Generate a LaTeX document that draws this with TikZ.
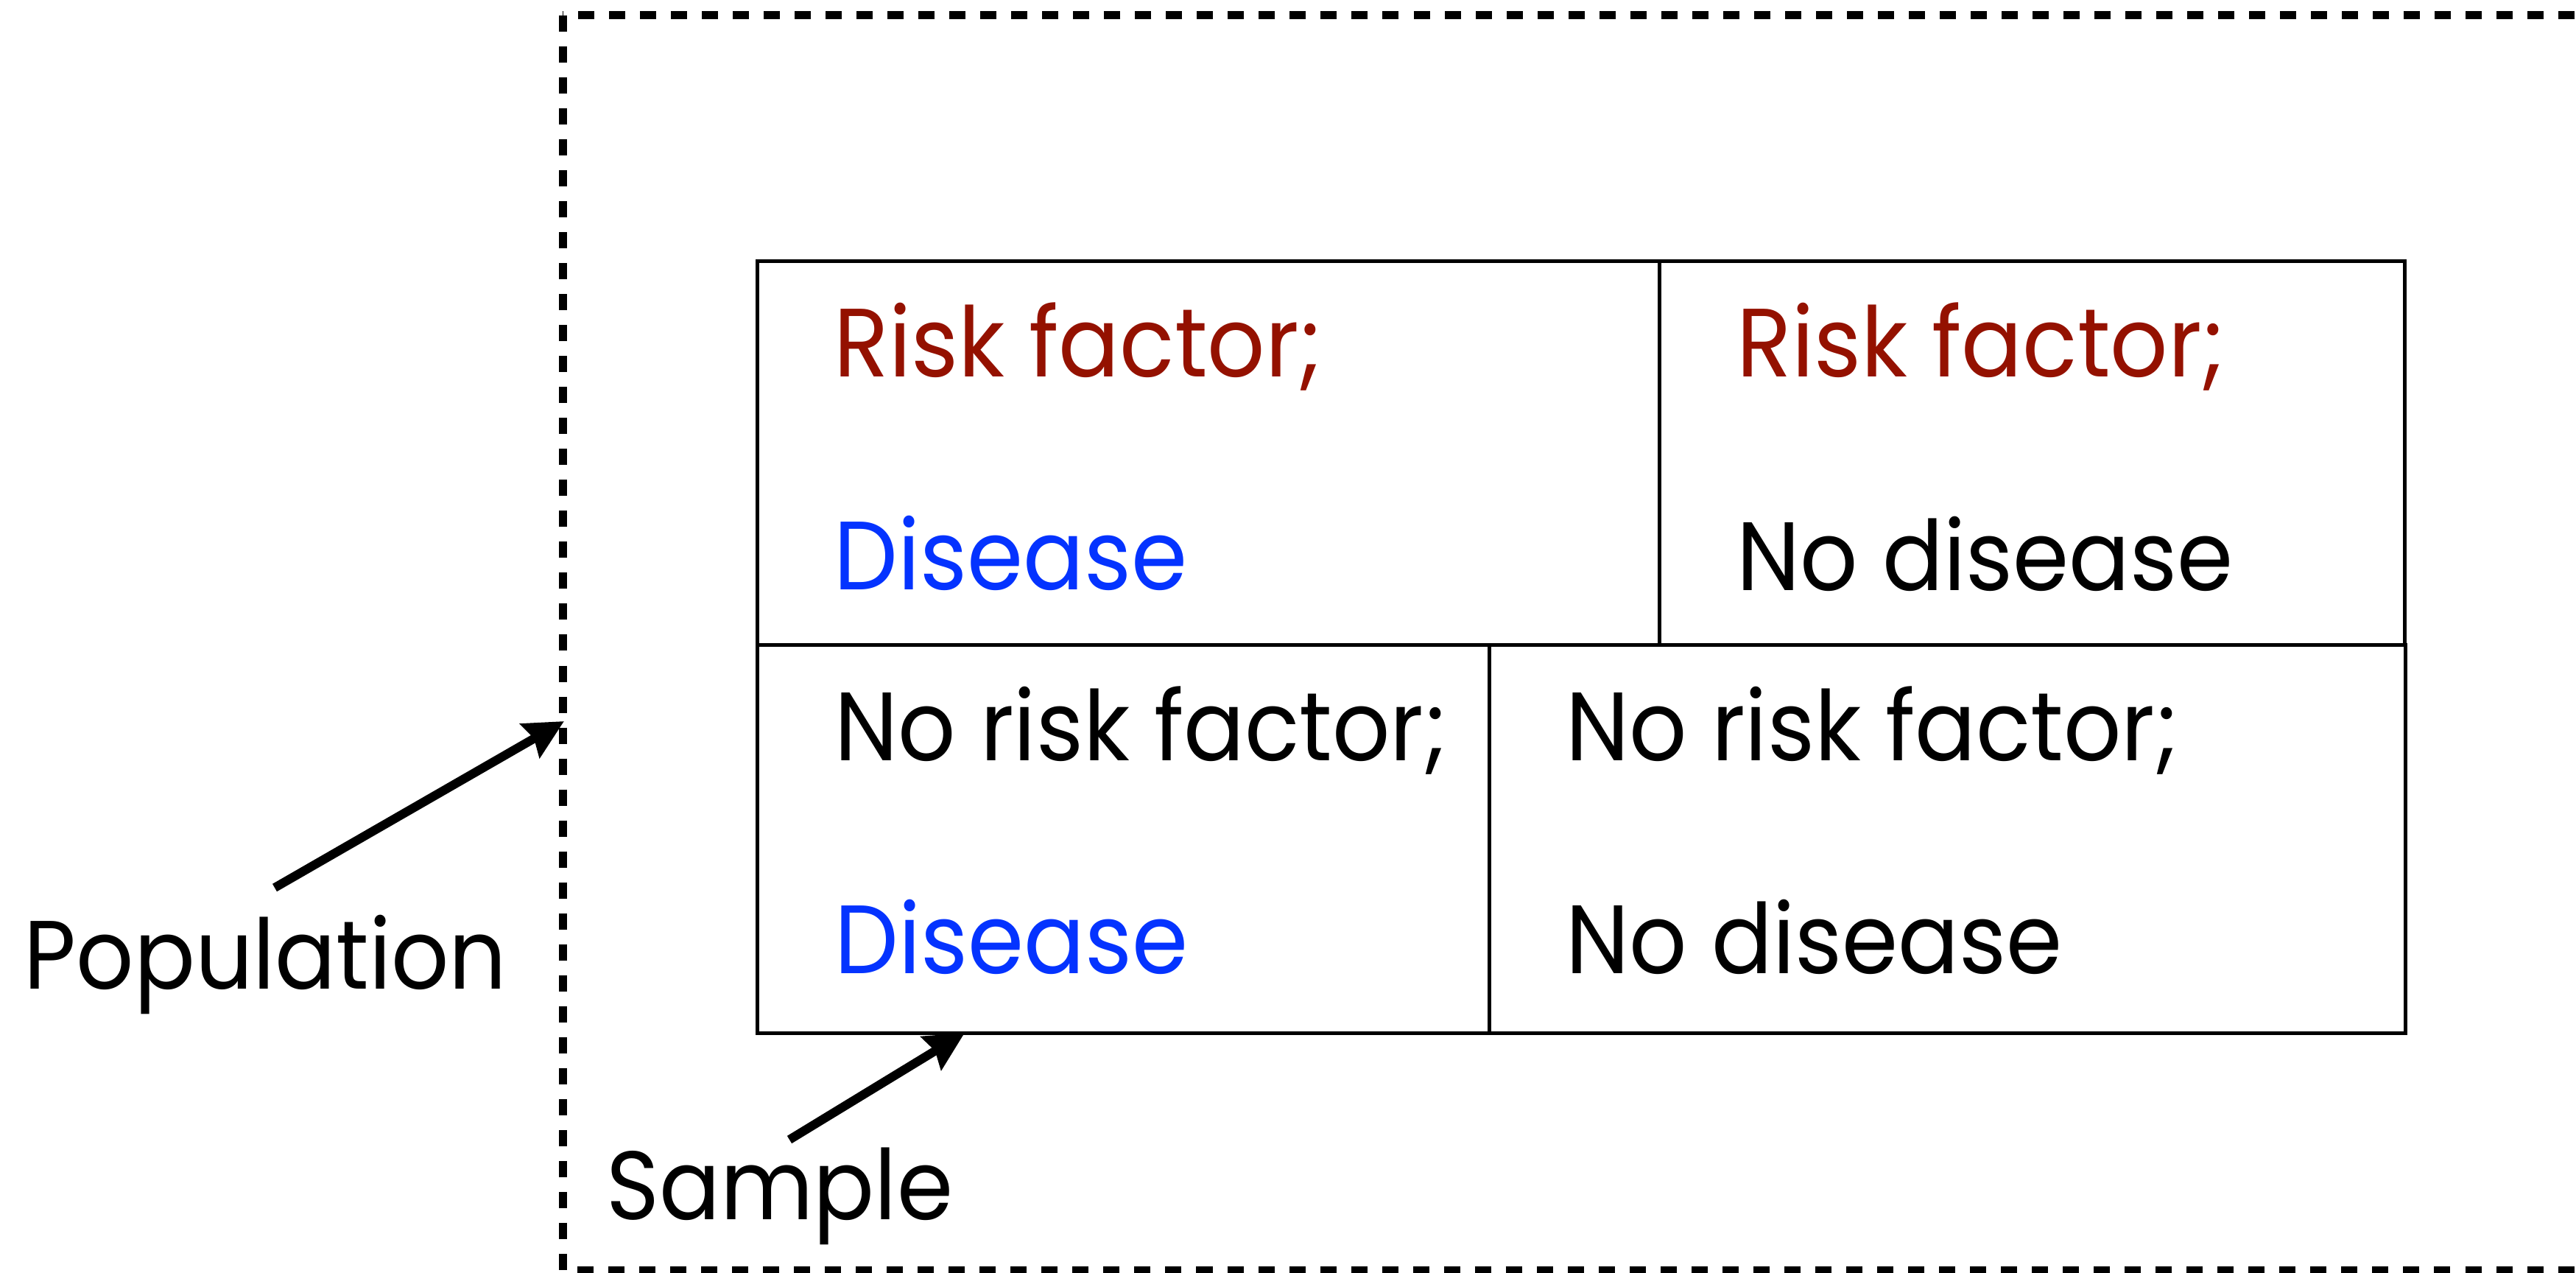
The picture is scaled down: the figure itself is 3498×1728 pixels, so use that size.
\documentclass[tikz,border=0pt]{standalone}
\usepackage{fontspec}
\setmainfont{Poppins}[FakeStretch=0.93]
\usetikzlibrary{arrows.meta}
\definecolor{riskred}{RGB}{148,17,0}
\definecolor{disblue}{RGB}{4,51,255}
\begin{document}
\begin{tikzpicture}[x=0.01cm,y=-0.01cm,
  cell/.style={draw=black, line width=0.05cm},
  txt/.style={anchor=base west, inner sep=0pt, font=\fontsize{37.5}{45}\selectfont},
  pointer/.style={line width=0.12cm, -{Stealth[length=0.53cm,width=0.52cm,inset=0.06cm]}},
  popline/.style={line width=0.11cm, dash pattern=on 0.22cm off 0.2cm}]
\useasboundingbox (0,0) rectangle (3498,1728);

% population frame (right side runs off the page)
\draw[popline] (764,21) rectangle (3600,1724);

% 2x2 sample table
\draw[cell] (1028,355) rectangle (2253,875);
\draw[cell] (2253,355) rectangle (3265,875);
\draw[cell] (1028,875) rectangle (2022,1402);
\draw[cell] (2022,875) rectangle (3266,1402);

% cell texts
\node[txt, text=riskred] (rf1) at (1132,512) {Risk factor;};
\node[txt, text=disblue] (d1) at (1132,800) {Disease};
\node[txt, text=riskred] (rf2) at (2358,512) {Risk factor;};
\node[txt] (nd2) at (2358,801) {No disease};
\node[txt] (nrf3) at (1133,1032) {No risk factor;};
\node[txt, text=disblue] (d3) at (1133,1321) {Disease};
\node[txt] (nrf4) at (2126,1032) {No risk factor;};
\node[txt] (nd4) at (2126,1321) {No disease};

% outside labels
\node[txt] (pop) at (32,1342) {Population};
\node[txt] (smp) at (823,1655) {Sample};

% pointers
\coordinate (popTail) at (373,1205);
\coordinate (popTip) at (766,979);
\coordinate (smpTail) at (1072,1547);
\coordinate (smpTip) at (1310,1402);
\draw[pointer] (popTail) -- (popTip);
\draw[pointer] (smpTail) -- (smpTip);
\end{tikzpicture}
\end{document}
